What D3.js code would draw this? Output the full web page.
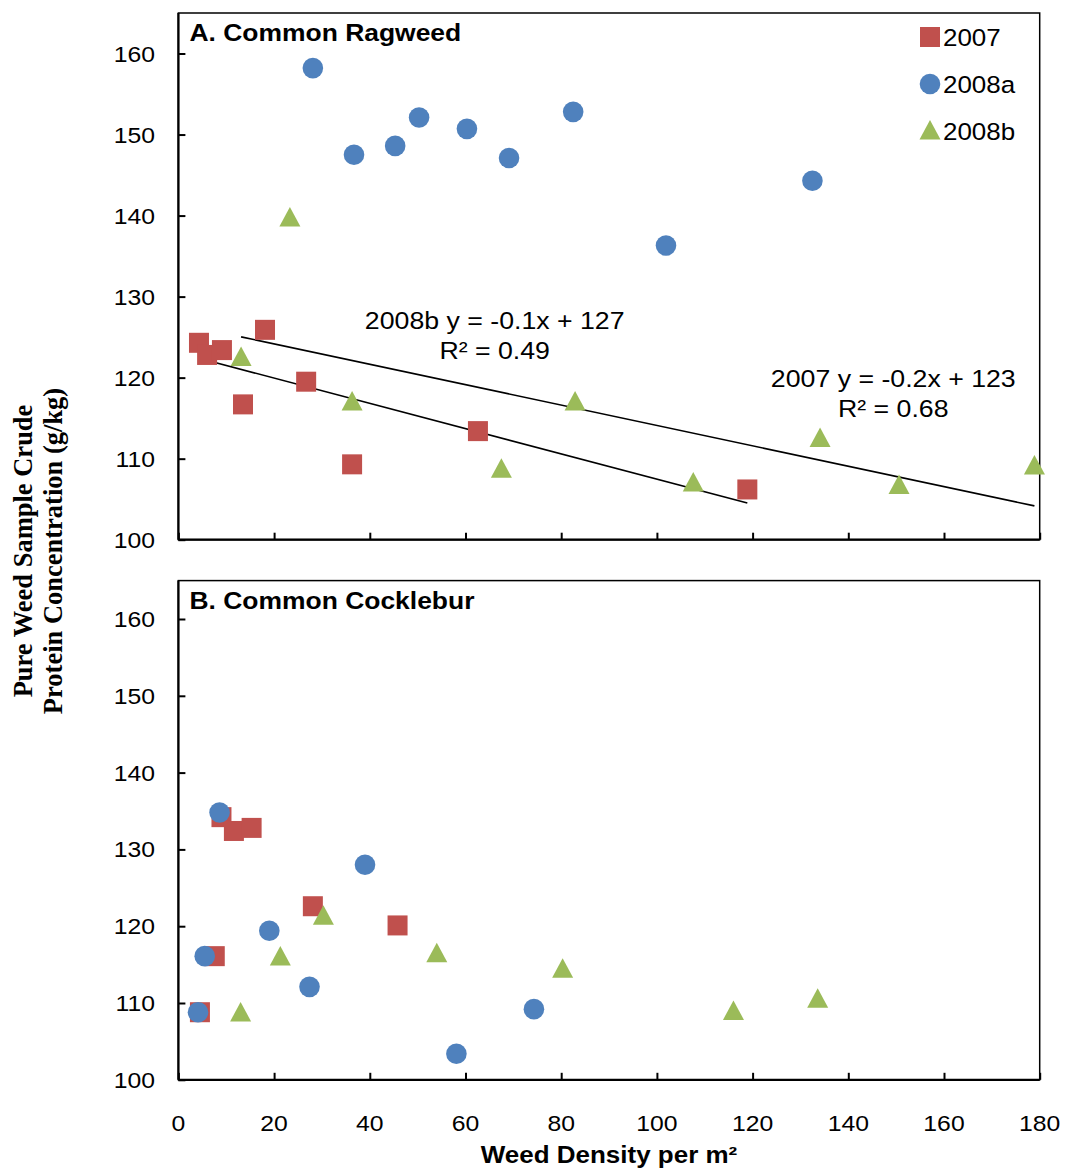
<!DOCTYPE html>
<html><head><meta charset="utf-8">
<script src="https://cdn.jsdelivr.net/npm/d3@7"></script>
<style>body{margin:0;background:#fff}svg{display:block}</style>
</head><body>
<svg id="c" width="1067" height="1170"></svg>
<script>
// ---- data ----
const seriesNames = ["2007", "2008a", "2008b"];
const seriesColors = ["#C0504D", "#4F81BD", "#9BBB59"];
const xTicks = [0, 20, 40, 60, 80, 100, 120, 140, 160, 180];
const yTicks = [100, 110, 120, 130, 140, 150, 160];

// Panel A: Common Ragweed
const ragweed2007X  = [4.3, 6.0, 9.1, 13.5, 18.1, 26.7, 36.3, 62.6, 118.9];
const ragweed2007Y  = [124.3, 122.8, 123.4, 116.7, 125.9, 119.5, 109.3, 113.4, 106.2];
const ragweed2008aX = [28.1, 36.7, 45.3, 50.3, 60.3, 69.1, 82.5, 101.9, 132.5];
const ragweed2008aY = [158.2, 147.5, 148.6, 152.1, 150.7, 147.1, 152.8, 136.3, 144.3];
const ragweed2008bX = [13.1, 23.3, 36.3, 67.5, 82.9, 107.6, 134.1, 150.6, 178.9];
const ragweed2008bY = [122.5, 139.7, 117.0, 108.7, 117.0, 107.0, 112.5, 106.7, 109.1];

// Panel B: Common Cocklebur
const cocklebur2007X  = [4.5, 7.6, 9.0, 11.6, 15.3, 28.1, 45.8];
const cocklebur2007Y  = [108.8, 116.1, 134.2, 132.4, 132.8, 122.6, 120.1];
const cocklebur2008aX = [4.1, 5.5, 8.6, 19.0, 27.4, 39.0, 58.1, 74.3];
const cocklebur2008aY = [108.8, 116.1, 134.8, 119.4, 112.1, 128.0, 103.4, 109.2];
const cocklebur2008bX = [13.0, 21.3, 30.3, 54.0, 80.3, 116.0, 133.6];
const cocklebur2008bY = [108.7, 116.0, 121.3, 116.4, 114.4, 108.9, 110.5];

const eqLines1 = ["2008b y = -0.1x + 127", "R² = 0.49"];
const eqLines2 = ["2007 y = -0.2x + 123", "R² = 0.68"];
const eqAnchorX = [66.1, 149.4];
const eqAnchorY = [125.97, 118.79];

// ---- layout ----
const svg = d3.select("#c");
const FONT = "'Liberation Sans', Arial, sans-serif";
const x = d3.scaleLinear().domain([0, 180]).range([178.4, 1039.7]);
const yA = d3.scaleLinear().domain([100, 165]).range([539.7, 13]);
const yB = d3.scaleLinear().domain([100, 165]).range([1079.8, 580.6]);

function txt(parent, tx, ty, s, size, sx, anchor, weight) {
  return parent.append("text")
    .attr("transform", `translate(${tx},${ty}) scale(${sx},1)`)
    .attr("text-anchor", anchor || "start")
    .attr("font-family", FONT).attr("font-size", size)
    .attr("font-weight", weight || "normal").text(s);
}

function fit(xs, ys) {
  const mx = d3.mean(xs), my = d3.mean(ys);
  let sxy = 0, sxx = 0;
  xs.forEach((v, i) => { sxy += (v - mx) * (ys[i] - my); sxx += (v - mx) ** 2; });
  const b = sxy / sxx;
  return {b, a: my - b * mx, x0: d3.min(xs), x1: d3.max(xs)};
}

function marker(g, type, cx, cy, color) {
  if (type === 0) {
    g.append("rect").attr("x", cx - 10).attr("y", cy - 10).attr("width", 20).attr("height", 20).attr("fill", color);
  } else if (type === 1) {
    g.append("circle").attr("cx", cx).attr("cy", cy).attr("r", 10.3).attr("fill", color);
  } else {
    g.append("path").attr("d", `M${cx},${cy - 11}L${cx + 10.5},${cy + 8.5}L${cx - 10.5},${cy + 8.5}Z`).attr("fill", color);
  }
}

function panel(y, title, data, showXLabels, trends) {
  const g = svg.append("g");
  const [x0, x1] = x.range();
  const [yb, yt] = y.range();
  g.append("rect").attr("x", x0).attr("y", yt).attr("width", x1 - x0).attr("height", yb - yt)
    .attr("fill", "none").attr("stroke", "#000").attr("stroke-width", 1.5);
  const ax = g.append("g").attr("transform", `translate(0,${yb})`)
    .call(d3.axisTop(x).tickValues(xTicks).tickSize(7).tickFormat(""));
  ax.select(".domain").remove();
  ax.selectAll("line").attr("stroke", "#000").attr("stroke-width", 2);
  g.append("line").attr("x1", x0).attr("x2", x1).attr("y1", yb).attr("y2", yb).attr("stroke", "#000").attr("stroke-width", 2.2);
  if (showXLabels) {
    xTicks.forEach(d => txt(g, x(d), yb + 51, d, 22.5, 1.1, "middle"));
  }
  const ay = g.append("g").attr("transform", `translate(${x0},0)`)
    .call(d3.axisRight(y).tickValues(yTicks).tickSize(7).tickFormat(""));
  ay.select(".domain").remove();
  ay.selectAll("line").attr("stroke", "#000").attr("stroke-width", 2);
  g.append("line").attr("x1", x0).attr("x2", x0).attr("y1", yt).attr("y2", yb).attr("stroke", "#000").attr("stroke-width", 2.2);
  yTicks.forEach(d => txt(g, 155, y(d) + 8, d, 22.5, 1.1, "end"));
  txt(g, x0 + 11, yt + 28, title, 24.5, 1.08, "start", "bold");
  if (trends) {
    trends.forEach(t => {
      const f = fit(t[0], t[1]);
      g.append("line").attr("x1", x(f.x0)).attr("y1", y(f.a + f.b * f.x0))
        .attr("x2", x(f.x1)).attr("y2", y(f.a + f.b * f.x1)).attr("stroke", "#000").attr("stroke-width", 1.6);
    });
  }
  data.forEach((s, si) => {
    s[0].forEach((xv, i) => marker(g, si, x(xv), y(s[1][i]), seriesColors[si]));
  });
  return g;
}

panel(yA, "A. Common Ragweed",
  [[ragweed2007X, ragweed2007Y], [ragweed2008aX, ragweed2008aY], [ragweed2008bX, ragweed2008bY]],
  false, [[ragweed2007X, ragweed2007Y], [ragweed2008bX, ragweed2008bY]]);
panel(yB, "B. Common Cocklebur",
  [[cocklebur2007X, cocklebur2007Y], [cocklebur2008aX, cocklebur2008aY], [cocklebur2008bX, cocklebur2008bY]],
  true, null);

// equation labels
[eqLines1, eqLines2].forEach((lines, k) => {
  lines.forEach((l, i) => txt(svg, x(eqAnchorX[k]), yA(eqAnchorY[k]) + i * 30, l, 24.5, 1.09, "middle"));
});

// legend
const leg = svg.append("g");
seriesNames.forEach((n, i) => {
  const cy = 37 + i * 47;
  marker(leg, i, 930, cy, seriesColors[i]);
  txt(leg, 943, cy + 9, n, 24.5, 1.06, "start");
});

// axis titles
svg.append("text").attr("transform", "translate(609,1163) scale(1.13,1)").attr("text-anchor", "middle")
  .attr("font-family", FONT).attr("font-weight", "bold").attr("font-size", 23)
  .text("Weed Density per m").append("tspan").attr("font-size", 23).attr("dy", 0).text("²");
const ytl = svg.append("text").attr("transform", "translate(0,551) rotate(-90)").attr("text-anchor", "middle")
  .attr("font-family", "'Liberation Serif', 'Times New Roman', serif").attr("font-weight", "bold").attr("font-size", 26.5);
ytl.append("tspan").attr("x", 0).attr("y", 32).text("Pure Weed Sample Crude");
ytl.append("tspan").attr("x", 0).attr("y", 62).text("Protein Concentration (g/kg)");
</script>
</body></html>
